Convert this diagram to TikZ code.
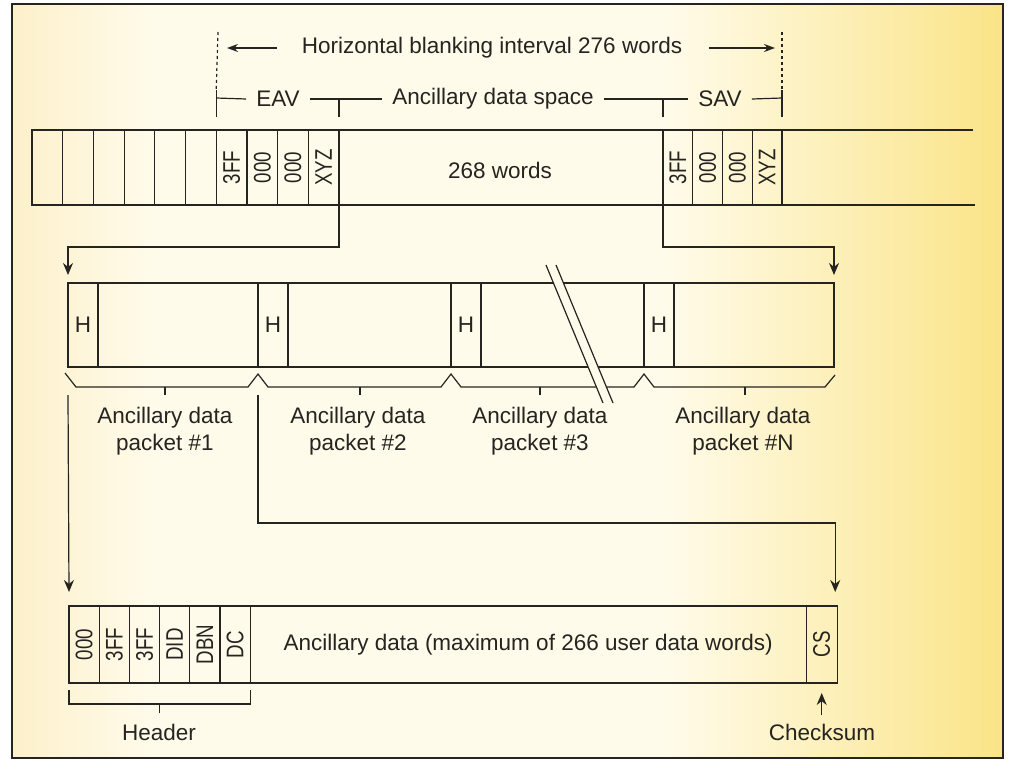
\documentclass[tikz,border=0pt]{standalone}
\usepackage{fontspec}
\setmainfont{Liberation Sans}
\newfontfamily\narrowfont[FakeStretch=0.78]{Liberation Sans}
\usetikzlibrary{arrows.meta,calc,positioning}
\definecolor{ink}{RGB}{38,36,32}
\definecolor{bgleft}{RGB}{253,240,203}
\definecolor{bgmid}{RGB}{255,251,234}
\definecolor{bgright}{RGB}{250,228,135}
\pgfdeclarehorizontalshading{paper}{100bp}{color(0bp)=(bgleft); color(25bp)=(bgleft); color(32bp)=(bgmid); color(58bp)=(bgmid); color(75bp)=(bgright); color(100bp)=(bgright)}
\newcommand{\upword}[1]{\rotatebox{90}{\narrowfont\fontsize{24}{27}\selectfont #1}}
\tikzset{
  thinline/.style={draw=ink,line width=1.2pt},
  wordcell/.style={thinline,minimum width=30.7pt,minimum height=75pt,inner sep=0pt,outer sep=0pt,anchor=north west,text=ink,font=\fontsize{22.5}{27}\selectfont},
  pktcell/.style={thinline,minimum height=84pt,inner sep=0pt,outer sep=0pt,anchor=north west,text=ink,font=\fontsize{22.5}{27}\selectfont},
  anccell/.style={thinline,minimum width=30.2pt,minimum height=77pt,inner sep=0pt,outer sep=0pt,anchor=north west,text=ink,font=\fontsize{22.5}{27}\selectfont},
  lbl/.style={text=ink,inner sep=2pt,font=\fontsize{22.5}{27}\selectfont,align=center},
  dimlbl/.style={lbl,inner sep=10pt},
  conn/.style={thinline,-{Stealth[length=12pt,width=10pt]}},
  dimarr/.style={thinline,-{Stealth[length=11pt,width=8pt]}}
}

\begin{document}
\begin{tikzpicture}[x=1pt,y=-1pt]
  \useasboundingbox (0,0) rectangle (1009,761);
  \fill[white] (0,0) rectangle (1009,761);
  \shade[shading=paper] (12,4) rectangle (1003,758);
  \draw[ink,line width=1.5pt] (12,4) rectangle (1003,758);

  % video line: EAV, gap, SAV
  \foreach \i/\t in {0/,1/,2/,3/,4/,5/,6/3FF,7/000,8/000,9/XYZ}
    \node[wordcell] (w\i) at (32+30.7*\i,130) {\upword{\t}};
  \foreach \i/\t in {0/3FF,1/000,2/000,3/XYZ}
    \node[wordcell,minimum width=29.75pt] (s\i) at (663+29.75*\i,130) {\upword{\t}};
  \coordinate (rowT) at (973,130);
  \coordinate (rowB) at (975,205);
  \draw[thinline] (w0.north west) -- (rowT);
  \draw[thinline] (w0.south west) -- (rowB);
  \node[lbl] (gapw) at (500,170) {268 words};

  % dimensions
  \node[lbl] (hbi) at (492,48) {Horizontal blanking interval 276 words};
  \coordinate (hbiL) at (227,48);
  \coordinate (hbiR) at (775,48);
  \draw[dimarr] ([xshift=-23pt]hbi.west) -- (hbiL);
  \draw[dimarr] ([xshift=25pt]hbi.east) -- (hbiR);

  \coordinate (dA) at ($(w6.north west)+(0,-32)$);
  \coordinate (dB) at ($(w9.north east)+(0,-32)$);
  \coordinate (dC) at ($(s0.north west)+(0,-32)$);
  \coordinate (dD) at ($(s3.north east)+(0,-32)$);
  \node[dimlbl] (eav) at (278,99) {EAV};
  \node[dimlbl] (ads) at (493,99) {Ancillary data space};
  \node[dimlbl] (sav) at (720,99) {SAV};
  \draw[thinline] (dA) -- (eav.west);
  \draw[thinline] (eav.east) -- (ads.west);
  \draw[thinline] (ads.east) -- (sav.west);
  \draw[thinline] (sav.east) -- (dD);
  \draw[thinline] (dA) ++(0,-8) -- ++(0,27);
  \draw[thinline] (dD) ++(0,-8) -- ++(0,27);
  \draw[thinline] (dB) -- ++(0,19);
  \draw[thinline] (dC) -- ++(0,19);
  \draw[thinline,dash pattern=on 3pt off 3pt] (218,32) -- ($(dA)+(0,-8)$);
  \draw[thinline,dash pattern=on 3pt off 3pt] (782,32) -- ($(dD)+(0,-8)$);

  % ancillary data packets
  \node[pktcell,minimum width=30pt] (h1) at (68,283) {H};
  \node[pktcell,minimum width=160pt,right=0pt of h1] (d1) {};
  \node[pktcell,minimum width=30pt,right=0pt of d1] (h2) {H};
  \node[pktcell,minimum width=163pt,right=0pt of h2] (d2) {};
  \node[pktcell,minimum width=30pt,right=0pt of d2] (h3) {H};
  \node[pktcell,minimum width=163pt,right=0pt of h3] (d3) {};
  \node[pktcell,minimum width=30pt,right=0pt of d3] (h4) {H};
  \node[pktcell,minimum width=160pt,right=0pt of h4] (d4) {};

  \coordinate (p1tip) at ($(h1.north west)+(0,-8)$);
  \coordinate (pNtip) at ($(d4.north east)+(0,-8)$);
  \draw[conn] (w9.south east) -- ++(0,42) -| (p1tip);
  \draw[conn] (s0.south west) -- ++(0,42) -| (pNtip);

  \path (h2.south west) ++(0,7) coordinate (pk2);
  \path (h3.south west) ++(0,7) coordinate (pk3);
  \path (h4.south west) ++(0,7) coordinate (pk4);
  \draw[thinline] ($(h1.south west)+(-3,6)$) -- ++(11,14) -- ($(pk2)+(-10,13)$) -- (pk2) -- ++(10,13)
    -- ($(pk3)+(-10,13)$) -- (pk3) -- ++(10,13) -- ($(pk4)+(-10,13)$) -- (pk4) -- ++(10,13)
    -- ($(d4.south east)+(-9,20)$) -- ++(10,-12);
  \foreach \x in {165,360,540,745}
    \draw[thinline] (\x,387) -- ++(0,8);

  \coordinate (brk1a) at (546,265); \coordinate (brk1b) at (603,403);
  \coordinate (brk2a) at (556,265); \coordinate (brk2b) at (613,403);
  \fill[bgmid] (brk1a) -- (brk1b) -- (brk2b) -- (brk2a) -- cycle;
  \draw[thinline] (brk1a) -- (brk1b);
  \draw[thinline] (brk2a) -- (brk2b);

  \node[lbl] (lp1) at (165,431) {Ancillary data\\packet \#1};
  \node[lbl] (lp2) at (358,431) {Ancillary data\\packet \#2};
  \node[lbl] (lp3) at (540,431) {Ancillary data\\packet \#3};
  \node[lbl] (lpN) at (743,431) {Ancillary data\\packet \#N};

  % one packet in detail
  \foreach \i/\t in {0/000,1/3FF,2/3FF,3/DID,4/DBN,5/DC}
    \node[anccell] (b\i) at (69+30.2*\i,606) {\upword{\t}};
  \node[anccell,minimum width=556pt,right=0pt of b5] (udw) {Ancillary data (maximum of 266 user data words)};
  \node[anccell,minimum width=31pt,right=0pt of udw] (cs) {\upword{CS}};

  \coordinate (b0tip) at ($(b0.north west)+(0,-14)$);
  \coordinate (cstip) at ($(cs.north east)+(-2,-14)$);
  \draw[conn] ($(h1.south west)+(0,28)$) -- (b0tip);
  \draw[conn] ($(h2.south west)+(0,28)$) -- ++(0,128) -| (cstip);

  \draw[thinline] ($(b0.south west)+(0,7)$) -- ++(0,14) -| ($(b5.south east)+(0,7)$);
  \draw[thinline] ($(b0.south west)!0.5!(b5.south east)+(0,21)$) -- ++(0,9);
  \node[lbl] (hdr) at (159,732) {Header};

  \draw[conn] ($(cs.south)+(0,32)$) -- ($(cs.south)+(0,10)$);
  \node[lbl] (chk) at (822,732) {Checksum};
\end{tikzpicture}
\end{document}
